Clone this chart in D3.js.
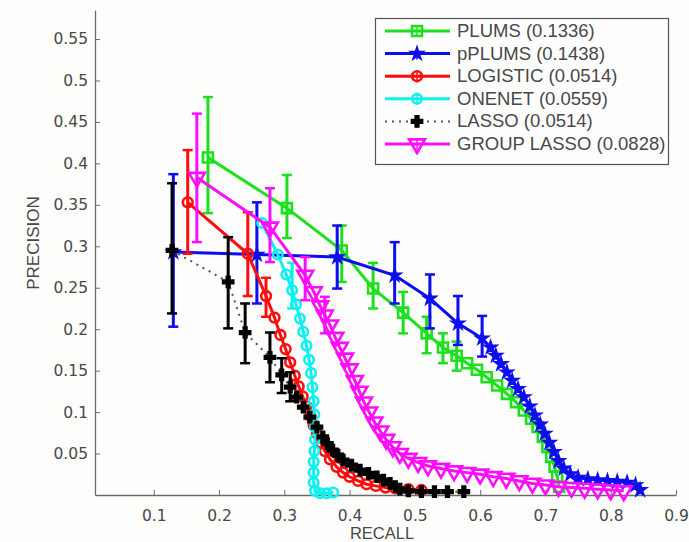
<!DOCTYPE html>
<html lang="en">
  <head>
    <meta charset="UTF-8" />
    <title>Precision / Recall</title>
    <script src="https://cdnjs.cloudflare.com/ajax/libs/d3/7.8.5/d3.min.js"></script>
    <style>
      html,
      body {
        margin: 0;
        background: #fdfdfc;
        font-family: "Liberation Sans", Arial, sans-serif;
      }
      svg text {
        fill: #484848;
      }
    </style>
  </head>
  <body>
    <div id="chart"></div>
    <script>
      // values; null = no error bar at that point
      const plumsRecall = [0.183, 0.304, 0.388, 0.436, 0.482, 0.518, 0.543, 0.564, 0.58, 0.595, 0.61, 0.626, 0.641, 0.655, 0.667, 0.678, 0.688, 0.696, 0.703, 0.709, 0.714, 0.718, 0.721];
      const plumsPrecision = [0.407, 0.346, 0.295, 0.249, 0.22, 0.195, 0.178, 0.168, 0.159, 0.151, 0.142, 0.132, 0.122, 0.112, 0.102, 0.092, 0.082, 0.07, 0.058, 0.046, 0.034, 0.022, 0.01];
      const plumsLow = [0.34, 0.31, 0.257, 0.225, 0.195, 0.171, 0.159, 0.15];
      const plumsHigh = [0.48, 0.386, 0.325, 0.28, 0.245, 0.215, 0.195, 0.185];

      const pplumsRecall = [0.13, 0.258, 0.381, 0.469, 0.523, 0.566, 0.603, 0.616, 0.624, 0.632, 0.641, 0.649, 0.658, 0.667, 0.676, 0.684, 0.692, 0.699, 0.706, 0.713, 0.72, 0.728, 0.738, 0.75, 0.765, 0.78, 0.795, 0.81, 0.825, 0.838, 0.845];
      const pplumsPrecision = [0.293, 0.29, 0.287, 0.265, 0.237, 0.207, 0.189, 0.178, 0.168, 0.158, 0.148, 0.138, 0.128, 0.118, 0.107, 0.096, 0.085, 0.074, 0.063, 0.052, 0.041, 0.032, 0.025, 0.021, 0.019, 0.018, 0.017, 0.016, 0.015, 0.012, 0.006];
      const pplumsLow = [0.203, 0.231, 0.249, 0.231, 0.201, 0.181, 0.167];
      const pplumsHigh = [0.387, 0.353, 0.325, 0.305, 0.266, 0.24, 0.216];

      const logisticRecall = [0.152, 0.244, 0.272, 0.285, 0.294, 0.302, 0.309, 0.316, 0.322, 0.328, 0.334, 0.34, 0.345, 0.35, 0.356, 0.362, 0.37, 0.38, 0.39, 0.4, 0.413, 0.426, 0.44, 0.455, 0.47, 0.49, 0.51];
      const logisticPrecision = [0.353, 0.291, 0.24, 0.214, 0.193, 0.176, 0.16, 0.144, 0.131, 0.119, 0.107, 0.095, 0.084, 0.074, 0.063, 0.053, 0.043, 0.034, 0.027, 0.022, 0.017, 0.013, 0.011, 0.009, 0.008, 0.007, 0.006];
      const logisticLow = [0.291, 0.24, 0.215];
      const logisticHigh = [0.416, 0.341, 0.262];

      const onenetRecall = [0.266, 0.29, 0.303, 0.312, 0.318, 0.324, 0.329, 0.334, 0.338, 0.341, 0.343, 0.345, 0.346, 0.347, 0.347, 0.346, 0.345, 0.345, 0.345, 0.347, 0.355, 0.365, 0.375];
      const onenetPrecision = [0.328, 0.29, 0.266, 0.247, 0.23, 0.213, 0.197, 0.18, 0.163, 0.147, 0.13, 0.113, 0.097, 0.082, 0.067, 0.053, 0.04, 0.027, 0.015, 0.005, 0.002, 0.002, 0.003];
      const onenetLow = [null, null, null, 0.225];
      const onenetHigh = [null, null, null, 0.28];

      const lassoRecall = [0.128, 0.214, 0.24, 0.278, 0.296, 0.309, 0.319, 0.329, 0.339, 0.35, 0.359, 0.366, 0.374, 0.382, 0.39, 0.403, 0.416, 0.429, 0.442, 0.452, 0.462, 0.47, 0.477, 0.49, 0.51, 0.53, 0.55, 0.575];
      const lassoPrecision = [0.295, 0.257, 0.196, 0.166, 0.145, 0.13, 0.118, 0.106, 0.094, 0.082, 0.07, 0.062, 0.054, 0.048, 0.042, 0.036, 0.03, 0.026, 0.022, 0.018, 0.014, 0.01, 0.007, 0.005, 0.004, 0.004, 0.004, 0.004];
      const lassoLow = [0.219, 0.201, 0.159, 0.136, 0.123, 0.113];
      const lassoHigh = [0.376, 0.311, 0.231, 0.196, 0.165, 0.148];

      const groupRecall = [0.166, 0.278, 0.332, 0.345, 0.355, 0.362, 0.37, 0.378, 0.385, 0.393, 0.4, 0.408, 0.415, 0.422, 0.43, 0.438, 0.447, 0.456, 0.466, 0.477, 0.49, 0.505, 0.52, 0.54, 0.56, 0.58, 0.6, 0.62, 0.64, 0.66, 0.68, 0.7, 0.72, 0.74, 0.76, 0.78, 0.8, 0.82];
      const groupPrecision = [0.383, 0.323, 0.265, 0.245, 0.228, 0.217, 0.205, 0.19, 0.178, 0.165, 0.152, 0.138, 0.125, 0.112, 0.1, 0.088, 0.077, 0.067, 0.058, 0.05, 0.044, 0.039, 0.035, 0.032, 0.029, 0.027, 0.025, 0.022, 0.02, 0.017, 0.014, 0.012, 0.01, 0.009, 0.008, 0.007, 0.006, 0.005];
      const groupLow = [0.305, 0.281, 0.235, null, null, 0.195];
      const groupHigh = [0.46, 0.37, 0.287, null, null, 0.239];

      const legendLabels = ["PLUMS (0.1336)", "pPLUMS (0.1438)", "LOGISTIC (0.0514)", "ONENET (0.0559)", "LASSO (0.0514)", "GROUP LASSO (0.0828)"];
      const xTicks = [0.1, 0.2, 0.3, 0.4, 0.5, 0.6, 0.7, 0.8, 0.9];
      const yTicks = [0.05, 0.1, 0.15, 0.2, 0.25, 0.3, 0.35, 0.4, 0.45, 0.5, 0.55];

      const series = [
        { x: plumsRecall, y: plumsPrecision, lo: plumsLow, hi: plumsHigh, color: "#1fe01f", symbol: d3.symbolSquare, size: 100, fill: false, dash: null },
        { x: pplumsRecall, y: pplumsPrecision, lo: pplumsLow, hi: pplumsHigh, color: "#0a0af0", symbol: d3.symbolStar, size: 55, fill: true, dash: null },
        { x: logisticRecall, y: logisticPrecision, lo: logisticLow, hi: logisticHigh, color: "#ff1010", symbol: d3.symbolCircle, size: 75, fill: false, dash: null },
        { x: onenetRecall, y: onenetPrecision, lo: onenetLow, hi: onenetHigh, color: "#10f0f0", symbol: d3.symbolCircle, size: 70, fill: false, dash: null },
        { x: lassoRecall, y: lassoPrecision, lo: lassoLow, hi: lassoHigh, color: "#000000", symbol: d3.symbolCross, size: 70, fill: true, dash: "2,5" },
        { x: groupRecall, y: groupPrecision, lo: groupLow, hi: groupHigh, color: "#ff10ff", symbol: d3.symbolTriangle, size: 110, fill: false, dash: null, flip: true },
      ];

      const width = 689,
        height = 542,
        margin = { top: 10, right: 13, bottom: 47, left: 95 };

      const x = d3.scaleLinear().domain([0.01, 0.9]).range([margin.left, width - margin.right]);
      const y = d3.scaleLinear().domain([0, 0.585]).range([height - margin.bottom, margin.top]);

      const svg = d3
        .select("#chart")
        .append("svg")
        .attr("width", width)
        .attr("height", height)
        .style("display", "block");

      // the source is a soft video frame
      svg.append("defs")
        .append("filter")
        .attr("id", "soft")
        .append("feGaussianBlur")
        .attr("stdDeviation", 0.6);

      const fmt = (d) => String(+d.toFixed(2));

      // axes (MATLAB style, ticks pointing in)
      const xAxis = svg
        .append("g")
        .attr("transform", `translate(0,${y(0)})`)
        .call(d3.axisBottom(x).tickValues(xTicks).tickFormat(fmt).tickSizeInner(-5).tickSizeOuter(0).tickPadding(15));
      const yAxis = svg
        .append("g")
        .attr("transform", `translate(${x(0.01)},0)`)
        .call(d3.axisLeft(y).tickValues(yTicks).tickFormat(fmt).tickSizeInner(-5).tickSizeOuter(0).tickPadding(7));

      [xAxis, yAxis].forEach((g) => {
        g.select(".domain").attr("stroke", "#6b6b6b").attr("stroke-width", 1.3);
        g.selectAll(".tick line").attr("stroke", "#6b6b6b");
        g.selectAll(".tick text").attr("font-size", 15.5).attr("fill", "#4a4a4a").attr("font-family", "DejaVu Sans, sans-serif");
      });

      svg
        .append("text")
        .attr("x", 382)
        .attr("y", 539)
        .attr("text-anchor", "middle")
        .attr("font-size", 16.5)
        .text("RECALL");

      svg
        .append("text")
        .attr("transform", "translate(39,243) rotate(-90)")
        .attr("text-anchor", "middle")
        .attr("font-size", 17)
        .text("PRECISION");

      const plot = svg.append("g").attr("filter", "url(#soft)");

      const line = d3
        .line()
        .x((d) => x(d[0]))
        .y((d) => y(d[1]));

      function marker(g, s, cx, cy) {
        g.append("path")
          .attr("d", d3.symbol().type(s.symbol).size(s.size)())
          .attr("transform", `translate(${cx},${cy})` + (s.flip ? " rotate(180)" : ""))
          .attr("fill", s.fill ? s.color : "none")
          .attr("stroke", s.color)
          .attr("stroke-width", s.fill ? 1.5 : 2.6);
      }

      series.forEach((s) => {
        const pts = s.x.map((v, i) => [v, s.y[i]]);
        const g = plot.append("g");

        // error bars
        s.lo.forEach((lo, i) => {
          if (lo == null) return;
          const hi = s.hi[i],
            cx = x(s.x[i]);
          g.append("line")
            .attr("x1", cx).attr("x2", cx)
            .attr("y1", y(lo)).attr("y2", y(hi))
            .attr("stroke", s.color).attr("stroke-width", 3);
          [lo, hi].forEach((v) => {
            g.append("line")
              .attr("x1", cx - 5).attr("x2", cx + 5)
              .attr("y1", y(v)).attr("y2", y(v))
              .attr("stroke", s.color).attr("stroke-width", 2.5);
          });
        });

        g.append("path")
          .datum(pts)
          .attr("fill", "none")
          .attr("stroke", s.dash ? "#555" : s.color)
          .attr("stroke-width", s.dash ? 2 : 3)
          .attr("stroke-dasharray", s.dash)
          .attr("d", line);

        pts.forEach((p) => marker(g, s, x(p[0]), y(p[1])));
      });

      // legend
      const lg = svg.append("g");
      lg.append("rect")
        .attr("x", 375.5)
        .attr("y", 18.5)
        .attr("width", 293)
        .attr("height", 146)
        .attr("fill", "#fefefe")
        .attr("stroke", "#555")
        .attr("stroke-width", 1.2);

      legendLabels.forEach((label, i) => {
        const s = series[i],
          ly = 31 + i * 22.6;
        const row = lg.append("g").attr("filter", "url(#soft)");
        row.append("line")
          .attr("x1", 385).attr("x2", 450)
          .attr("y1", ly).attr("y2", ly)
          .attr("stroke", s.dash ? "#555" : s.color)
          .attr("stroke-width", s.dash ? 2 : 3)
          .attr("stroke-dasharray", s.dash);
        row.append("line")
          .attr("x1", 417).attr("x2", 417)
          .attr("y1", ly - 6).attr("y2", ly + 6)
          .attr("stroke", s.color).attr("stroke-width", 1.5);
        marker(row, s, 417, ly);
        lg.append("text")
          .attr("x", 457)
          .attr("y", ly + 6)
          .attr("font-size", 18.5)
          .text(label);
      });
    </script>
  </body>
</html>
